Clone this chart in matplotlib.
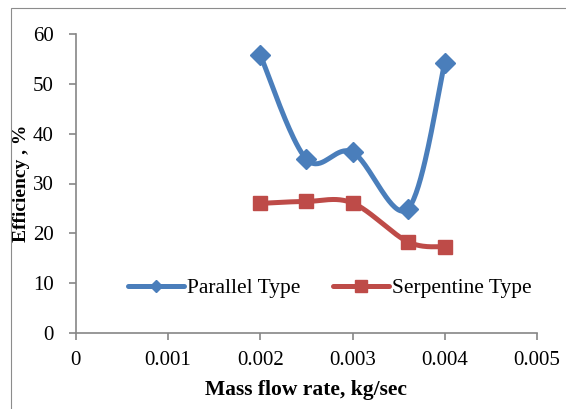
import numpy as np
import matplotlib
matplotlib.use("Agg")
import matplotlib.pyplot as plt
from matplotlib.patches import Rectangle

plt.rcParams['font.family'] = ['Liberation Serif', 'DejaVu Serif']

flow = [0.002, 0.0025, 0.003, 0.0036, 0.004]
parallel = [55.8, 34.9, 36.3, 24.9, 54.2]
serpentine = [26.0, 26.4, 26.1, 18.3, 17.3]
xticks = [0, 0.001, 0.002, 0.003, 0.004, 0.005]
xticklabels = ["0", "0.001", "0.002", "0.003", "0.004", "0.005"]
yticks = [0, 10, 20, 30, 40, 50, 60]

xmax, ymax = 0.005, 60


def smooth(x, y, wpx, hpx, n=40):
    # Catmull-Rom in screen-like space (Excel style smoothing)
    p = np.column_stack([np.array(x) / xmax * wpx, np.array(y) / ymax * hpx])
    p = np.vstack([p[0], p, p[-1]])
    out = []
    for i in range(1, len(p) - 2):
        p0, p1, p2, p3 = p[i - 1], p[i], p[i + 1], p[i + 2]
        c1 = p1 + (p2 - p0) / 6
        c2 = p2 - (p3 - p1) / 6
        t = np.linspace(0, 1, n)[:, None]
        seg = ((1 - t) ** 3) * p1 + 3 * ((1 - t) ** 2) * t * c1 + 3 * (1 - t) * t ** 2 * c2 + t ** 3 * p2
        out.append(seg)
    out = np.vstack(out)
    return out[:, 0] / wpx * xmax, out[:, 1] / hpx * ymax


fig = plt.figure(figsize=(5.66, 4.09), dpi=100)
fig.patches.append(Rectangle((11 / 566, -0.1), 1.2, 1 - 8 / 409 + 0.1, transform=fig.transFigure,
                             fill=False, edgecolor='#8c8c8c', linewidth=0.8))
ax = fig.add_axes([75.75 / 566, 1 - 333 / 409, 461.25 / 566, 299 / 409])

blue = '#4a7ebb'
red = '#be4b48'
lw = 3.6

sx, sy = smooth(flow, parallel, 461, 299)
ax.plot(sx, sy, color=blue, lw=lw, solid_capstyle='round', zorder=3)
ax.plot(flow, parallel, linestyle='none', marker='D', ms=10, color=blue, zorder=4)
sx, sy = smooth(flow, serpentine, 461, 299)
ax.plot(sx, sy, color=red, lw=lw, solid_capstyle='round', zorder=3)
ax.plot(flow, serpentine, linestyle='none', marker='s', ms=10.5, color=red, zorder=4)

h1, = ax.plot([], [], color=blue, lw=lw, marker='D', ms=6, solid_capstyle='round')
h2, = ax.plot([], [], color=red, lw=lw, marker='s', ms=8, solid_capstyle='round')
ax.legend([h1, h2], ["Parallel Type", "Serpentine Type"], ncol=2, frameon=False,
          loc='center', bbox_to_anchor=(0.551, 0.15), fontsize=15.5,
          handlelength=2.6, handletextpad=0.15, columnspacing=1.5,
          borderpad=0, borderaxespad=0)

ax.set_xlim(0, xmax)
ax.set_ylim(0, ymax)
ax.set_xticks(xticks)
ax.set_xticklabels(xticklabels)
ax.set_yticks(yticks)
for s in ['top', 'right']:
    ax.spines[s].set_visible(False)
for s in ['left', 'bottom']:
    ax.spines[s].set_color('#868686')
    ax.spines[s].set_linewidth(1.2)
ax.tick_params(direction='out', length=5, width=1.2, color='#868686', labelsize=15)
ax.tick_params(axis='x', pad=8)
ax.tick_params(axis='y', pad=11)

ax.set_xlabel("Mass flow rate, kg/sec", fontsize=15.5, fontweight='bold')
ax.set_ylabel("Efficiency , %", fontsize=14, fontweight='bold')
ax.xaxis.set_label_coords(306 / 566, 1 - 390 / 409, transform=fig.transFigure)
ax.yaxis.set_label_coords(22 / 566, 1 - 183 / 409, transform=fig.transFigure)
ax.xaxis.label.set_va('center')
ax.yaxis.label.set_va('center')

fig.savefig("out.png", dpi=100)
